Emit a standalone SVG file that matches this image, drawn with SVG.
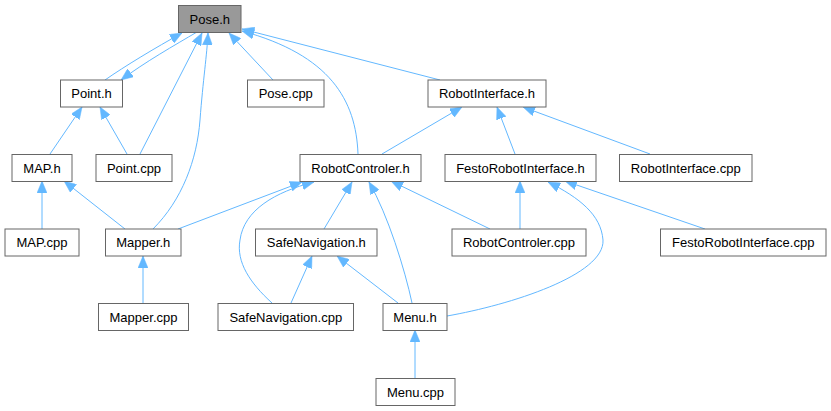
<svg xmlns="http://www.w3.org/2000/svg" width="831" height="411" viewBox="0 0 831 411">
<style>
.n rect{fill:#ffffff;stroke:#666666;stroke-width:1}
.n.cur rect{fill:#999999}
.n text{font-family:"Liberation Sans",Arial,sans-serif;font-size:13px;fill:#000000;text-anchor:middle}
.e path{fill:none;stroke:#63b8ff;stroke-width:1;marker-end:url(#arr)}
</style>
<defs>
<marker id="arr" viewBox="0 0 12 10" markerWidth="12" markerHeight="10" refX="12" refY="5" orient="auto" markerUnits="userSpaceOnUse">
<path d="M0,0 L12,5 L0,10 z" fill="#63b8ff" stroke="#63b8ff" stroke-width="0.5"/>
</marker>
</defs>
<rect width="831" height="411" fill="#ffffff"/>
<g id="edges" class="e">
<path d="M105,80 C125,66 155,48 182,33"/>
<path d="M197,32 C175,45 145,62 121,80"/>
<path d="M140,154 L202,33"/>
<path d="M153,229 C182,200 197,160 200,120 C203,80 207,55 208,33"/>
<path d="M273,80 L229,33"/>
<path d="M440,80 L242,29"/>
<path d="M358,154 C356,100 330,55 242,31"/>
<path d="M50,154 L82,107"/>
<path d="M127,154 L100,107"/>
<path d="M42,229 L42,181"/>
<path d="M125,229 L64,181"/>
<path d="M178,229 L302,182"/>
<path d="M324,229 L352,182"/>
<path d="M272,303 C250,283 236,262 240,240 C244,210 275,192 314,182"/>
<path d="M412,303 C405,270 388,215 369,182"/>
<path d="M490,229 L391,181"/>
<path d="M291,303 L312,256"/>
<path d="M398,303 L337,256"/>
<path d="M447,316 C510,305 605,275 603,240 C601,215 580,198 548,182"/>
<path d="M520,229 L520,181"/>
<path d="M705,229 L565,181"/>
<path d="M382,154 L462,107"/>
<path d="M515,154 L497,107"/>
<path d="M650,154 L523,107"/>
<path d="M143,303 L143,256"/>
<path d="M415,378 L415,330"/>
</g>
<g id="pose_h" class="n cur"><rect x="178.5" y="5.5" width="62.5" height="27"/><text x="209.75" y="23.5">Pose.h</text></g>
<g id="point_h" class="n"><rect x="60.5" y="80" width="62" height="27"/><text x="91.5" y="98">Point.h</text></g>
<g id="pose_cpp" class="n"><rect x="247.5" y="80" width="76.5" height="27"/><text x="285.75" y="98">Pose.cpp</text></g>
<g id="robotinterface_h" class="n"><rect x="428" y="80" width="118" height="27"/><text x="487" y="98">RobotInterface.h</text></g>
<g id="map_h" class="n"><rect x="12" y="154.5" width="60" height="27"/><text x="42" y="172.5">MAP.h</text></g>
<g id="point_cpp" class="n"><rect x="96" y="154.5" width="76" height="27"/><text x="134" y="172.5">Point.cpp</text></g>
<g id="robotcontroler_h" class="n"><rect x="300" y="154.5" width="121" height="27"/><text x="360.5" y="172.5">RobotControler.h</text></g>
<g id="festorobotinterface_h" class="n"><rect x="445" y="154.5" width="151" height="27"/><text x="520.5" y="172.5">FestoRobotInterface.h</text></g>
<g id="robotinterface_cpp" class="n"><rect x="619.5" y="154.5" width="132.5" height="27"/><text x="685.75" y="172.5">RobotInterface.cpp</text></g>
<g id="map_cpp" class="n"><rect x="5" y="229" width="74" height="27"/><text x="42" y="247">MAP.cpp</text></g>
<g id="mapper_h" class="n"><rect x="105.5" y="229" width="75.5" height="27"/><text x="143.25" y="247">Mapper.h</text></g>
<g id="safenavigation_h" class="n"><rect x="255.5" y="229" width="121.5" height="27"/><text x="316.25" y="247">SafeNavigation.h</text></g>
<g id="robotcontroler_cpp" class="n"><rect x="452" y="229" width="134" height="27"/><text x="519" y="247">RobotControler.cpp</text></g>
<g id="festorobotinterface_cpp" class="n"><rect x="660.5" y="229" width="165.5" height="27"/><text x="743.25" y="247">FestoRobotInterface.cpp</text></g>
<g id="mapper_cpp" class="n"><rect x="98.5" y="303.5" width="90" height="27"/><text x="143.5" y="321.5">Mapper.cpp</text></g>
<g id="safenavigation_cpp" class="n"><rect x="218" y="303.5" width="135.5" height="27"/><text x="285.75" y="321.5">SafeNavigation.cpp</text></g>
<g id="menu_h" class="n"><rect x="383" y="303.5" width="64" height="27"/><text x="415" y="321.5">Menu.h</text></g>
<g id="menu_cpp" class="n"><rect x="376" y="378.5" width="79" height="27"/><text x="415.5" y="396.5">Menu.cpp</text></g>
</svg>
